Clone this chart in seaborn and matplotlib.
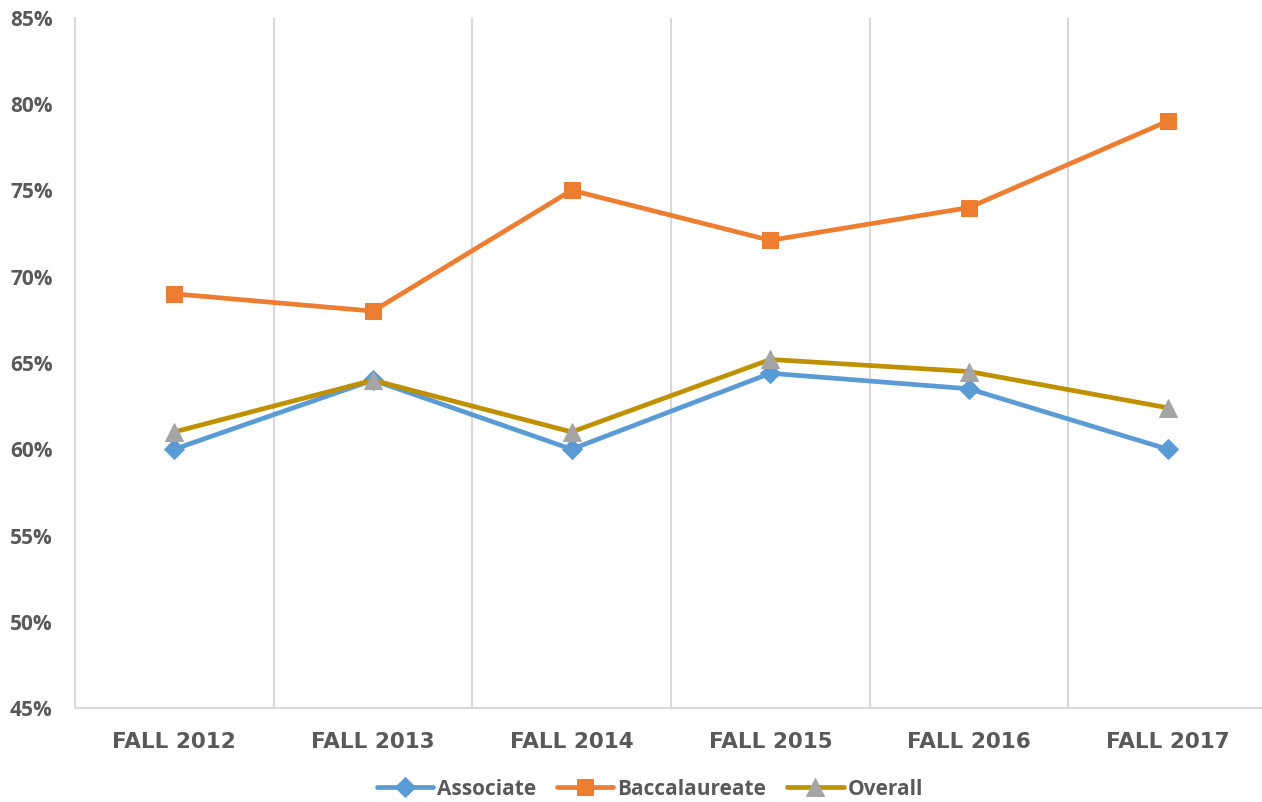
import matplotlib
matplotlib.use("Agg")
import matplotlib.pyplot as plt
import matplotlib.ticker as mticker
import numpy as np
import pandas as pd
import seaborn as sns

# data
terms = ["FALL 2012", "FALL 2013", "FALL 2014", "FALL 2015", "FALL 2016", "FALL 2017"]
associate = [0.60, 0.64, 0.60, 0.644, 0.635, 0.60]
baccalaureate = [0.69, 0.68, 0.75, 0.721, 0.740, 0.790]
overall = [0.61, 0.64, 0.61, 0.652, 0.645, 0.624]
yticks = [0.45, 0.50, 0.55, 0.60, 0.65, 0.70, 0.75, 0.80, 0.85]

sns.set_style("white")
plt.rcParams["font.family"] = ["Open Sans", "DejaVu Sans"]

gray_txt = "#595959"
grid_col = "#d9d9d9"

df = pd.DataFrame({"term": terms, "Associate": associate,
                   "Baccalaureate": baccalaureate, "Overall": overall})
df["x"] = np.arange(len(terms))

fig = plt.figure(figsize=(12.62, 8.02), dpi=100)
ax = fig.add_axes([0.0594, 0.117, 0.9446, 0.861])

sns.lineplot(data=df, x="x", y="Associate", ax=ax, color="#5B9BD5", lw=3.4,
             marker="D", markersize=10, markeredgecolor="#5B9BD5",
             markerfacecolor="#5B9BD5", label="Associate")
sns.lineplot(data=df, x="x", y="Baccalaureate", ax=ax, color="#ED7D31", lw=3.4,
             marker="s", markersize=12, markeredgecolor="#ED7D31",
             markerfacecolor="#ED7D31", label="Baccalaureate")
sns.lineplot(data=df, x="x", y="Overall", ax=ax, color="#BF9000", lw=3.4,
             marker="^", markersize=13, markeredgecolor="#A5A5A5",
             markerfacecolor="#A5A5A5", label="Overall")

ax.set_xlim(-0.5, len(terms) - 0.5)
ax.set_ylim(0.45, 0.85)
ax.set_xticks(df["x"])
ax.set_xticklabels(terms)
ax.set_xticks(np.arange(0.5, len(terms) - 1, 1.0), minor=True)
ax.set_yticks(yticks)
ax.yaxis.set_major_formatter(mticker.PercentFormatter(1.0, decimals=0))
ax.set_xlabel("")
ax.set_ylabel("")

ax.grid(False)
ax.grid(which="minor", axis="x", color=grid_col, lw=1.5)
ax.tick_params(which="both", length=0)
ax.tick_params(axis="y", pad=16, labelsize=15, labelcolor=gray_txt)
ax.tick_params(axis="x", pad=17, labelcolor=gray_txt)
for lab in ax.get_yticklabels():
    lab.set_fontweight("bold")
for lab in ax.get_xticklabels():
    lab.set_fontweight("bold")
    lab.set_family("DejaVu Sans")
    lab.set_fontsize(15.5)

for side in ["top", "right"]:
    ax.spines[side].set_visible(False)
for side in ["left", "bottom"]:
    ax.spines[side].set_color(grid_col)
    ax.spines[side].set_linewidth(1.5)

handles, labels = ax.get_legend_handles_labels()
ax.get_legend().remove()
leg = fig.legend(handles, labels, loc="center", bbox_to_anchor=(0.515, 0.016),
                 ncol=3, frameon=False, handlelength=2.7, columnspacing=1.0,
                 handletextpad=0.2, prop={"weight": "bold", "size": 15})
for t in leg.get_texts():
    t.set_color(gray_txt)

fig.savefig("out.png", dpi=100)
